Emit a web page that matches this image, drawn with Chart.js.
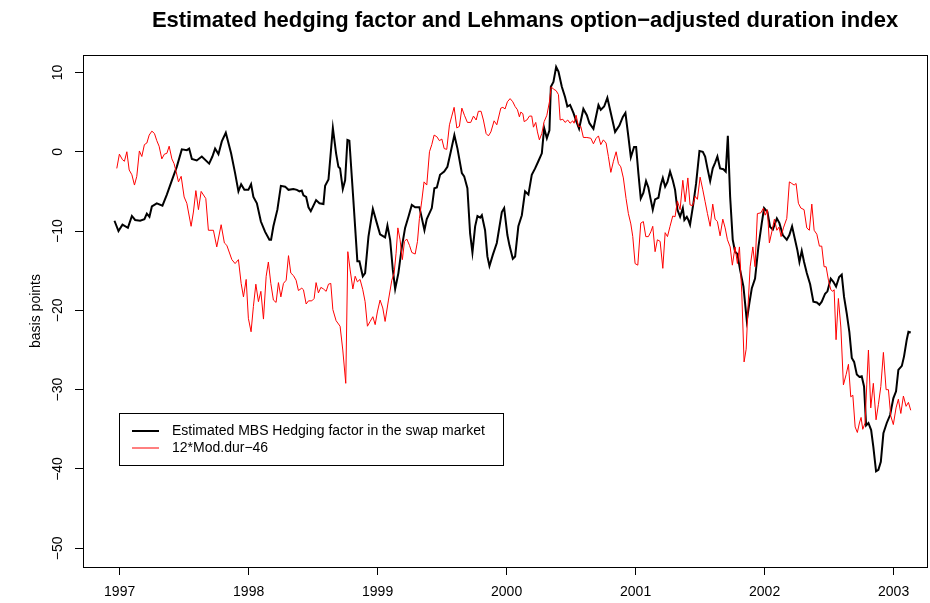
<!DOCTYPE html>
<html>
<head>
<meta charset="utf-8">
<script src="https://cdn.jsdelivr.net/npm/chart.js@4.4.0/dist/chart.umd.min.js"></script>
<style>
  body { margin: 0; background: #fff; }
  #wrap { width: 930px; height: 603px; }
</style>
</head>
<body>
<div id="wrap"><canvas id="myChart" width="930" height="603"></canvas></div>
<script>
// Data (decimal years / basis points)

var xTicks = [1997, 1998, 1999, 2000, 2001, 2002, 2003];
var yTicks = [-50, -40, -30, -20, -10, 0, 10];

var hedgeYears = [
  1996.960, 1996.991, 1997.022, 1997.064, 1997.095, 1997.120, 1997.159, 1997.192, 1997.211, 1997.231,
  1997.250, 1997.288, 1997.332, 1997.366, 1997.405, 1997.443, 1997.482, 1997.521, 1997.539, 1997.560,
  1997.598, 1997.637, 1997.694, 1997.719, 1997.740, 1997.766, 1997.792, 1997.823, 1997.864, 1997.895,
  1997.921, 1997.942, 1997.967, 1997.998, 1998.019, 1998.037, 1998.064, 1998.095, 1998.128, 1998.161,
  1998.174, 1998.192, 1998.223, 1998.250, 1998.283, 1998.309, 1998.347, 1998.374, 1998.394, 1998.412,
  1998.425, 1998.446, 1998.464, 1998.482, 1998.523, 1998.549, 1998.580, 1998.593, 1998.619, 1998.653,
  1998.678, 1998.696, 1998.709, 1998.730, 1998.748, 1998.766, 1998.781, 1998.812, 1998.843, 1998.859,
  1998.885, 1998.903, 1998.929, 1998.963, 1998.994, 1999.019, 1999.058, 1999.076, 1999.097, 1999.118,
  1999.136, 1999.161, 1999.188, 1999.213, 1999.239, 1999.265, 1999.291, 1999.324, 1999.343, 1999.363,
  1999.381, 1999.420, 1999.440, 1999.459, 1999.484, 1999.516, 1999.541, 1999.567, 1999.595, 1999.619,
  1999.653, 1999.671, 1999.696, 1999.717, 1999.735, 1999.756, 1999.774, 1999.795, 1999.808, 1999.833,
  1999.851, 1999.867, 1999.893, 1999.924, 1999.963, 1999.981, 2000.006, 2000.022, 2000.048, 2000.066,
  2000.091, 2000.118, 2000.143, 2000.169, 2000.195, 2000.221, 2000.246, 2000.273, 2000.291, 2000.312,
  2000.332, 2000.343, 2000.363, 2000.384, 2000.402, 2000.428, 2000.453, 2000.471, 2000.492, 2000.518,
  2000.539, 2000.562, 2000.595, 2000.622, 2000.642, 2000.673, 2000.712, 2000.730, 2000.756, 2000.781,
  2000.802, 2000.841, 2000.874, 2000.901, 2000.921, 2000.944, 2000.963, 2000.988, 2001.004, 2001.022,
  2001.040, 2001.060, 2001.081, 2001.099, 2001.118, 2001.133, 2001.151, 2001.177, 2001.195, 2001.211,
  2001.229, 2001.247, 2001.267, 2001.288, 2001.306, 2001.324, 2001.345, 2001.366, 2001.378, 2001.397,
  2001.409, 2001.422, 2001.448, 2001.469, 2001.495, 2001.521, 2001.539, 2001.557, 2001.578, 2001.598,
  2001.616, 2001.634, 2001.655, 2001.681, 2001.699, 2001.715, 2001.733, 2001.753, 2001.771, 2001.789,
  2001.810, 2001.836, 2001.862, 2001.882, 2001.901, 2001.926, 2001.952, 2001.978, 2001.996, 2002.022,
  2002.043, 2002.064, 2002.095, 2002.115, 2002.141, 2002.172, 2002.192, 2002.213, 2002.236, 2002.254,
  2002.270, 2002.288, 2002.306, 2002.327, 2002.353, 2002.378, 2002.405, 2002.425, 2002.443, 2002.469,
  2002.487, 2002.513, 2002.533, 2002.554, 2002.578, 2002.598, 2002.616, 2002.637, 2002.657, 2002.676,
  2002.694, 2002.715, 2002.735, 2002.753, 2002.771, 2002.787, 2002.805, 2002.826, 2002.843, 2002.864,
  2002.882, 2002.901, 2002.921, 2002.947, 2002.973, 2002.998, 2003.019, 2003.037, 2003.064, 2003.081,
  2003.102, 2003.115, 2003.133
];
var hedgeValues = [
  -8.7, -10.0, -9.2, -9.6, -8.1, -8.6, -8.7, -8.5, -7.8, -8.2,
  -6.9, -6.5, -6.8, -5.4, -3.6, -1.9, 0.3, 0.2, 0.4, -0.9,
  -1.1, -0.6, -1.5, -0.6, 0.4, -0.3, 1.3, 2.4, -0.2, -2.7,
  -5.0, -4.1, -4.8, -4.8, -4.1, -5.7, -6.5, -8.8, -10.1, -11.1,
  -11.1, -9.4, -7.3, -4.3, -4.4, -4.8, -4.7, -4.8, -5.0, -4.9,
  -5.5, -5.7, -7.0, -7.5, -6.1, -6.5, -6.6, -4.3, -3.5, 3.0,
  -0.2, -1.9, -2.1, -4.7, -3.6, 1.5, 1.4, -6.1, -13.8, -13.8,
  -15.7, -15.3, -10.7, -7.2, -9.0, -10.4, -10.8, -9.3, -11.1, -14.9,
  -17.3, -15.3, -12.0, -9.6, -8.2, -6.7, -7.0, -7.0, -8.4, -9.9,
  -8.5, -7.1, -4.6, -4.5, -2.9, -2.5, -1.9, 0.0, 2.1, 0.4,
  -2.7, -3.1, -4.6, -10.3, -12.7, -9.4, -8.1, -8.3, -8.0, -9.9,
  -13.2, -14.4, -13.0, -11.5, -7.6, -7.1, -10.5, -11.8, -13.5, -13.2,
  -9.4, -8.0, -5.0, -5.4, -2.9, -2.1, -1.2, -0.2, 3.0, 1.7,
  2.7, 8.2, 8.8, 10.7, 10.1, 8.2, 6.9, 5.7, 5.9, 4.9,
  3.9, 2.9, 5.4, 4.6, 3.6, 2.9, 5.9, 5.3, 5.7, 6.8,
  5.3, 2.5, 3.3, 4.4, 4.9, 1.9, -0.7, 0.6, 0.6, -2.8,
  -5.9, -5.2, -3.7, -4.5, -6.1, -7.3, -6.0, -5.8, -4.2, -3.3,
  -4.4, -3.8, -2.5, -3.6, -4.8, -7.3, -8.2, -7.1, -8.6, -8.2,
  -8.6, -9.2, -6.5, -4.0, 0.1, 0.0, -0.6, -2.1, -3.7, -2.1,
  -1.4, -0.6, -2.1, -2.2, -2.5, 2.0, -5.7, -11.1, -12.6, -12.9,
  -14.9, -17.0, -21.3, -19.1, -17.2, -16.0, -12.0, -9.0, -7.1, -7.6,
  -9.5, -9.8, -8.4, -9.0, -10.5, -11.1, -10.5, -9.4, -11.1, -12.4,
  -13.9, -12.5, -13.9, -15.3, -16.7, -18.9, -19.0, -19.3, -18.9, -17.9,
  -17.6, -16.0, -16.4, -17.0, -15.8, -15.5, -18.3, -20.4, -22.7, -26.0,
  -26.5, -28.1, -28.4, -28.3, -29.6, -34.5, -34.2, -35.1, -37.2, -40.3,
  -40.1, -39.1, -35.5, -34.2, -33.2, -31.1, -30.2, -27.5, -27.0, -25.8,
  -23.7, -22.7, -22.8
];

var durYears = [
  1996.978, 1996.998, 1997.022, 1997.037, 1997.056, 1997.074, 1997.095, 1997.115, 1997.133, 1997.153,
  1997.172, 1997.192, 1997.211, 1997.229, 1997.250, 1997.270, 1997.288, 1997.306, 1997.327, 1997.347,
  1997.366, 1997.384, 1997.405, 1997.422, 1997.438, 1997.456, 1997.477, 1997.500, 1997.521, 1997.554,
  1997.572, 1997.591, 1997.611, 1997.632, 1997.668, 1997.688, 1997.727, 1997.753, 1997.787, 1997.812,
  1997.831, 1997.870, 1997.895, 1997.921, 1997.942, 1997.960, 1997.981, 1997.998, 1998.019, 1998.037,
  1998.056, 1998.076, 1998.095, 1998.115, 1998.136, 1998.153, 1998.172, 1998.192, 1998.213, 1998.231,
  1998.250, 1998.270, 1998.291, 1998.309, 1998.327, 1998.347, 1998.368, 1998.386, 1998.412, 1998.425,
  1998.446, 1998.464, 1998.490, 1998.508, 1998.523, 1998.541, 1998.560, 1998.580, 1998.601, 1998.619,
  1998.637, 1998.653, 1998.678, 1998.709, 1998.730, 1998.753, 1998.769, 1998.787, 1998.808, 1998.826,
  1998.843, 1998.864, 1998.885, 1998.903, 1998.921, 1998.942, 1998.963, 1998.981, 1998.998, 1999.019,
  1999.040, 1999.058, 1999.084, 1999.110, 1999.128, 1999.143, 1999.157, 1999.174, 1999.192, 1999.208,
  1999.226, 1999.247, 1999.265, 1999.291, 1999.309, 1999.324, 1999.343, 1999.360, 1999.381, 1999.402,
  1999.420, 1999.438, 1999.459, 1999.479, 1999.498, 1999.516, 1999.536, 1999.557, 1999.575, 1999.593,
  1999.614, 1999.634, 1999.653, 1999.673, 1999.696, 1999.722, 1999.743, 1999.764, 1999.781, 1999.802,
  1999.820, 1999.841, 1999.859, 1999.878, 1999.903, 1999.924, 1999.955, 1999.971, 1999.988, 2000.006,
  2000.027, 2000.048, 2000.066, 2000.084, 2000.099, 2000.110, 2000.126, 2000.136, 2000.157, 2000.177,
  2000.195, 2000.208, 2000.226, 2000.239, 2000.254, 2000.273, 2000.291, 2000.312, 2000.332, 2000.345,
  2000.363, 2000.384, 2000.402, 2000.415, 2000.436, 2000.453, 2000.474, 2000.492, 2000.513, 2000.523,
  2000.539, 2000.557, 2000.575, 2000.595, 2000.622, 2000.653, 2000.673, 2000.694, 2000.712, 2000.730,
  2000.750, 2000.771, 2000.789, 2000.808, 2000.828, 2000.849, 2000.867, 2000.885, 2000.905, 2000.926,
  2000.944, 2000.963, 2000.978, 2000.996, 2001.017, 2001.040, 2001.060, 2001.079, 2001.099, 2001.118,
  2001.133, 2001.151, 2001.169, 2001.190, 2001.211, 2001.229, 2001.247, 2001.267, 2001.288, 2001.306,
  2001.324, 2001.345, 2001.366, 2001.384, 2001.405, 2001.422, 2001.443, 2001.461, 2001.479, 2001.500,
  2001.521, 2001.539, 2001.557, 2001.578, 2001.598, 2001.616, 2001.634, 2001.655, 2001.676, 2001.694,
  2001.712, 2001.733, 2001.750, 2001.771, 2001.789, 2001.805, 2001.823, 2001.841, 2001.857, 2001.874,
  2001.888, 2001.909, 2001.926, 2001.944, 2001.971, 2001.991, 2002.004, 2002.022, 2002.037, 2002.056,
  2002.076, 2002.095, 2002.112, 2002.128, 2002.146, 2002.172, 2002.192, 2002.211, 2002.229, 2002.244,
  2002.262, 2002.281, 2002.306, 2002.327, 2002.347, 2002.366, 2002.384, 2002.405, 2002.425, 2002.443,
  2002.461, 2002.477, 2002.495, 2002.513, 2002.529, 2002.539, 2002.554, 2002.572, 2002.591, 2002.611,
  2002.632, 2002.650, 2002.668, 2002.684, 2002.702, 2002.719, 2002.735, 2002.748, 2002.761, 2002.779,
  2002.792, 2002.805, 2002.823, 2002.843, 2002.864, 2002.882, 2002.901, 2002.921, 2002.942, 2002.960,
  2002.978, 2002.998, 2003.019, 2003.037, 2003.056, 2003.076, 2003.097, 2003.115, 2003.133
];
var durValues = [
  -2.1, -0.3, -1.0, -1.2, 0.0, -2.3, -2.9, -4.2, -3.1, 0.1,
  -0.6, 0.9, 1.1, 2.1, 2.6, 2.3, 1.4, 0.7, -0.9, -0.3,
  -0.2, 0.7, -0.9, -1.5, -2.5, -3.8, -3.1, -5.7, -6.5, -9.4,
  -7.6, -4.9, -7.3, -5.0, -5.9, -9.9, -9.9, -12.0, -9.2, -11.5,
  -11.8, -13.6, -14.1, -13.6, -16.6, -18.3, -16.1, -21.0, -22.7, -19.5,
  -16.7, -18.9, -17.6, -21.1, -15.7, -13.9, -16.6, -18.7, -19.0, -16.5,
  -18.3, -16.6, -16.2, -13.1, -15.3, -15.6, -16.2, -17.5, -17.2, -17.4,
  -19.2, -18.8, -18.8, -18.5, -16.5, -17.8, -17.1, -17.3, -17.6, -16.7,
  -16.6, -19.9, -21.3, -22.0, -25.0, -29.2, -12.6, -14.9, -17.3, -15.7,
  -16.4, -16.1, -17.4, -18.9, -22.0, -21.4, -20.8, -21.8, -20.2, -18.7,
  -19.7, -21.4, -18.7, -16.2, -15.3, -12.8, -9.6, -11.1, -13.6, -11.3,
  -11.0, -11.8, -12.7, -12.9, -11.3, -8.4, -6.1, -3.8, -4.2, 0.0,
  0.9, 2.1, 1.9, 1.4, 1.6, 0.4, 0.3, 3.4, 4.5, 5.6,
  3.0, 3.2, 5.5, 4.6, 3.7, 3.7, 4.5, 4.0, 5.1, 5.1,
  4.0, 2.3, 2.0, 2.5, 3.9, 3.4, 5.5, 5.6, 5.4, 6.3,
  6.7, 6.3, 5.7, 5.3, 4.4, 5.0, 4.8, 3.8, 4.0, 4.5,
  4.5, 3.1, 3.7, 2.5, 1.5, 2.3, 3.8, 4.6, 6.3, 8.2,
  7.9, 7.7, 7.2, 4.0, 4.1, 3.7, 4.0, 3.6, 3.9, 3.6,
  4.6, 3.2, 3.2, 1.8, 1.8, 1.7, 1.0, 1.7, 2.0, 0.9,
  1.5, 1.1, -0.6, -2.6, -1.2, 0.0, -1.5, -1.9, -3.3, -5.9,
  -7.8, -9.1, -10.7, -14.1, -14.3, -9.0, -8.8, -10.7, -10.7, -10.1,
  -9.4, -12.6, -11.1, -11.3, -14.7, -10.2, -10.7, -9.4, -8.1, -8.2,
  -6.2, -7.3, -3.6, -6.3, -3.3, -6.7, -6.8, -5.6, -6.0, -3.2,
  -4.8, -6.3, -7.8, -9.4, -6.6, -8.5, -8.8, -10.6, -8.5, -9.6,
  -11.1, -12.0, -14.3, -12.0, -14.1, -12.0, -17.8, -26.5, -24.9, -18.7,
  -14.5, -12.0, -14.5, -7.8, -7.7, -7.1, -8.0, -7.3, -11.5, -10.1,
  -8.5, -9.9, -9.5, -10.7, -9.6, -8.4, -3.8, -4.0, -4.2, -4.0,
  -6.5, -7.1, -7.3, -9.6, -9.9, -6.6, -9.9, -10.4, -11.9, -11.9,
  -14.5, -14.5, -16.2, -17.4, -17.6, -17.4, -23.7, -18.5, -22.1, -29.4,
  -28.1, -26.8, -30.9, -30.7, -34.7, -35.4, -34.2, -33.5, -35.0, -34.2,
  -29.4, -25.0, -32.3, -29.2, -33.8, -31.9, -29.6, -25.3, -30.0, -30.0,
  -33.3, -34.4, -32.3, -31.2, -33.0, -30.8, -32.1, -31.6, -32.6
];

var chartTitle = 'Estimated hedging factor and Lehmans option\u2212adjusted duration index';
var yLabel = 'basis points';
var hedgeLabel = 'Estimated MBS Hedging factor in the swap market';
var durLabel = '12*Mod.dur\u221246';

var FONT = '"Liberation Sans", Arial, Helvetica, sans-serif';

function toPoints(xs, ys) {
  return xs.map(function(x, i) { return { x: x, y: ys[i] }; });
}

function minusSign(v) {
  return v < 0 ? '\u2212' + Math.abs(v) : String(v);
}

// Box, title, rotated y labels and legend, R style
var framePlugin = {
  id: 'frame',
  afterDraw: function(chart) {
    var ctx = chart.ctx;
    var a = chart.chartArea;
    var ys = chart.scales.y;
    ctx.save();

    ctx.strokeStyle = '#000';
    ctx.lineWidth = 1;
    ctx.strokeRect(Math.round(a.left) + 0.5, Math.round(a.top) + 0.5,
      Math.round(a.right - a.left), Math.round(a.bottom - a.top));

    ctx.fillStyle = '#000';
    ctx.font = 'bold 22px ' + FONT;
    ctx.textAlign = 'center';
    ctx.textBaseline = 'middle';
    ctx.fillText(chartTitle, 525, 21);

    ctx.font = '14px ' + FONT;
    yTicks.forEach(function(v) {
      ctx.save();
      ctx.translate(58, ys.getPixelForValue(v));
      ctx.rotate(-Math.PI / 2);
      ctx.fillText(minusSign(v), 0, 0);
      ctx.restore();
    });

    ctx.save();
    ctx.translate(36, (a.top + a.bottom) / 2);
    ctx.rotate(-Math.PI / 2);
    ctx.fillText(yLabel, 0, 0);
    ctx.restore();

    // legend
    var lx = 119.5, ly = 413.5, lw = 384, lh = 52;
    ctx.fillStyle = '#fff';
    ctx.fillRect(lx, ly, lw, lh);
    ctx.strokeStyle = '#000';
    ctx.lineWidth = 1;
    ctx.strokeRect(lx, ly, lw, lh);
    ctx.textAlign = 'left';
    chart.data.datasets.forEach(function(ds, i) {
      var y = 431 + i * 17;
      ctx.strokeStyle = ds.borderColor;
      ctx.lineWidth = ds.borderWidth;
      ctx.beginPath();
      ctx.moveTo(132, y);
      ctx.lineTo(159, y);
      ctx.stroke();
      ctx.fillStyle = '#000';
      ctx.fillText(ds.label, 172, y);
    });

    ctx.restore();
  }
};

var ctx = document.getElementById('myChart').getContext('2d');

var chart = new Chart(ctx, {
  type: 'line',
  data: {
    datasets: [{
      label: hedgeLabel,
      data: toPoints(hedgeYears, hedgeValues),
      borderColor: '#000000',
      borderWidth: 2,
      pointRadius: 0,
      tension: 0,
      order: 2
    },
    {
      label: durLabel,
      data: toPoints(durYears, durValues),
      borderColor: '#ff0000',
      borderWidth: 1,
      pointRadius: 0,
      tension: 0,
      order: 1
    }]
  },
  options: {
    responsive: false,
    animation: false,
    layout: { padding: { top: 55, right: 3, left: 0, bottom: 0 } },
    plugins: {
      legend: { display: false },
      title: { display: false },
      tooltip: { enabled: false }
    },
    scales: {
      x: {
        type: 'linear',
        min: 1996.716,
        max: 2003.259,
        afterBuildTicks: function(s) { s.ticks = xTicks.map(function(v) { return { value: v }; }); },
        afterFit: function(s) { s.height = 36; },
        border: { display: false },
        grid: { drawOnChartArea: false, tickLength: 8, color: '#000', lineWidth: 1 },
        ticks: {
          color: '#000',
          font: { family: FONT, size: 14 },
          padding: 9,
          maxRotation: 0,
          autoSkip: false,
          callback: function(v) { return String(v); }
        }
      },
      y: {
        min: -52.36,
        max: 12.2,
        afterBuildTicks: function(s) { s.ticks = yTicks.map(function(v) { return { value: v }; }); },
        afterFit: function(s) { s.width = 83; },
        border: { display: false },
        grid: { drawOnChartArea: false, tickLength: 8, color: '#000', lineWidth: 1 },
        ticks: { display: false }
      }
    }
  },
  plugins: [framePlugin]
});
</script>
</body>
</html>
